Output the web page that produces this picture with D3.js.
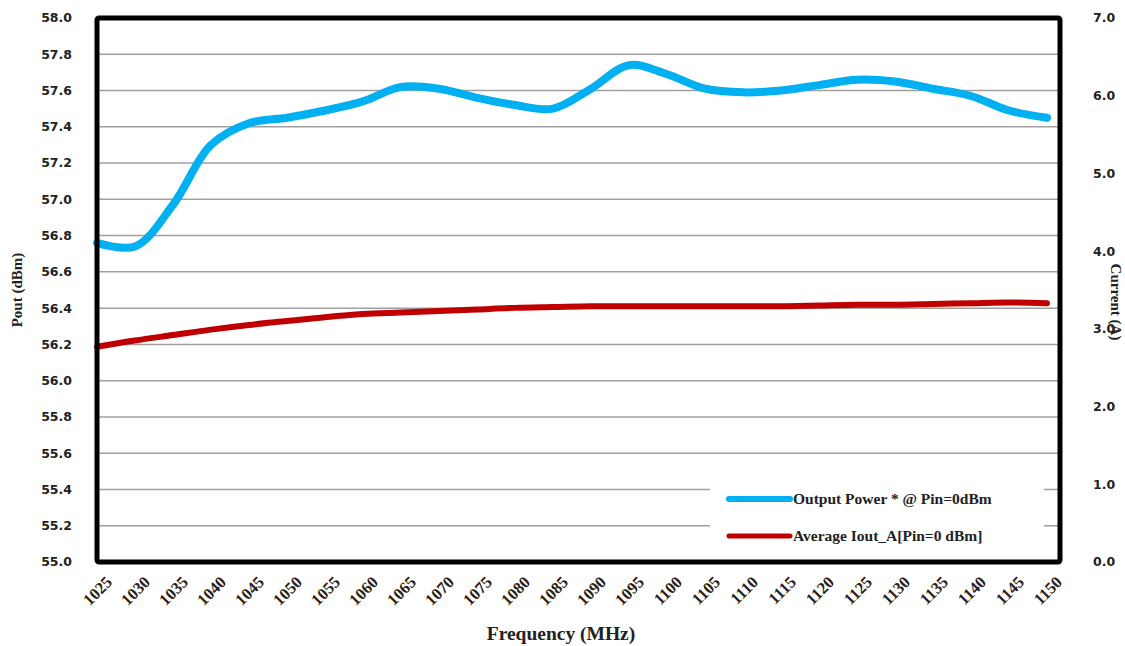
<!DOCTYPE html>
<html>
<head>
<meta charset="utf-8">
<script src="https://cdn.jsdelivr.net/npm/d3@7"></script>
<style>
  body { margin: 0; background: #fff; }
  svg { display: block; }
</style>
</head>
<body>
<div id="chart"></div>
<script>
const freqs = [1025, 1030, 1035, 1040, 1045, 1050, 1055, 1060, 1065, 1070, 1075, 1080, 1085,
               1090, 1095, 1100, 1105, 1110, 1115, 1120, 1125, 1130, 1135, 1140, 1145, 1150];
const pout = [56.76, 56.74, 56.97, 57.30, 57.42, 57.45, 57.49, 57.54, 57.62, 57.61, 57.56, 57.52, 57.50,
              57.61, 57.74, 57.69, 57.61, 57.59, 57.60, 57.63, 57.66, 57.65, 57.61, 57.57, 57.49, 57.45];
const current = [2.77, 2.85, 2.92, 2.99, 3.05, 3.10, 3.15, 3.19, 3.21, 3.23, 3.25, 3.27, 3.28,
                 3.29, 3.29, 3.29, 3.29, 3.29, 3.29, 3.30, 3.31, 3.31, 3.32, 3.33, 3.34, 3.33];
const leftTicks = d3.range(0, 16).map(i => +(55 + i * 0.2).toFixed(1));
const rightTicks = [0, 1, 2, 3, 4, 5, 6, 7];
const seriesNames = ["Output Power * @ Pin=0dBm", "Average Iout_A[Pin=0 dBm]"];

function renderChart() {
  const width = 1125, height = 646;
  const left = 97, right = 1060, top = 18, bottom = 562;

  const svg = d3.select("#chart").append("svg")
    .attr("width", width)
    .attr("height", height);

  const x = d3.scaleLinear().domain([1025, 1150]).range([left, 1047]);
  const yL = d3.scaleLinear().domain([55, 58]).range([bottom, top]);
  const yR = d3.scaleLinear().domain([0, 7]).range([bottom, top]);

  // grid
  svg.append("g")
    .selectAll("line")
    .data(leftTicks.slice(1, -1))
    .join("line")
    .attr("x1", left).attr("x2", right)
    .attr("y1", d => yL(d)).attr("y2", d => yL(d))
    .attr("stroke", "#a0a0a0")
    .attr("stroke-width", 1.5);

  // left tick labels
  svg.append("g")
    .selectAll("text")
    .data(leftTicks)
    .join("text")
    .attr("x", 72)
    .attr("y", d => yL(d))
    .attr("dy", "0.35em")
    .attr("text-anchor", "end")
    .attr("font-family", "DejaVu Sans")
    .attr("font-weight", "bold")
    .attr("font-size", 12.5)
    .attr("fill", "#222")
    .text(d => d.toFixed(1));

  // right tick labels
  svg.append("g")
    .selectAll("text")
    .data(rightTicks)
    .join("text")
    .attr("x", 1093)
    .attr("y", d => yR(d))
    .attr("dy", "0.35em")
    .attr("font-family", "DejaVu Sans")
    .attr("font-weight", "bold")
    .attr("font-size", 12.5)
    .attr("fill", "#222")
    .text(d => d.toFixed(1));

  // x tick labels
  svg.append("g")
    .selectAll("text")
    .data(freqs)
    .join("text")
    .attr("transform", d => `translate(${x(d) + 8},${575}) rotate(-45)`)
    .attr("text-anchor", "end")
    .attr("dy", "0.7em")
    .attr("font-family", "Liberation Serif")
    .attr("font-weight", "bold")
    .attr("font-size", 16.5)
    .attr("fill", "#222")
    .text(d => d);

  // axis titles
  svg.append("text")
    .attr("transform", "translate(22,290) rotate(-90)")
    .attr("text-anchor", "middle")
    .attr("font-family", "Liberation Serif")
    .attr("font-weight", "bold")
    .attr("font-size", 15)
    .attr("fill", "#222")
    .text("Pout (dBm)");

  svg.append("text")
    .attr("transform", "translate(1111,302) rotate(90)")
    .attr("text-anchor", "middle")
    .attr("font-family", "Liberation Serif")
    .attr("font-weight", "bold")
    .attr("font-size", 15)
    .attr("fill", "#222")
    .text("Current (A)");

  svg.append("text")
    .attr("x", 561)
    .attr("y", 640)
    .attr("text-anchor", "middle")
    .attr("font-family", "Liberation Serif")
    .attr("font-weight", "bold")
    .attr("font-size", 19.5)
    .attr("fill", "#222")
    .text("Frequency (MHz)");

  // series
  const lineL = d3.line()
    .x((d, i) => x(freqs[i]))
    .y(d => yL(d))
    .curve(d3.curveCatmullRom.alpha(0.5));
  const lineR = d3.line()
    .x((d, i) => x(freqs[i]))
    .y(d => yR(d))
    .curve(d3.curveCatmullRom.alpha(0.5));

  svg.append("path")
    .attr("d", lineL(pout))
    .attr("fill", "none")
    .attr("stroke", "#00b0f0")
    .attr("stroke-width", 8)
    .attr("stroke-linecap", "round");

  svg.append("path")
    .attr("d", lineR(current))
    .attr("fill", "none")
    .attr("stroke", "#c00000")
    .attr("stroke-width", 6)
    .attr("stroke-linecap", "round");

  // legend
  const lg = svg.append("g");
  lg.append("rect")
    .attr("x", 710).attr("y", 476)
    .attr("width", 334).attr("height", 80)
    .attr("fill", "#fff");
  const colors = ["#00b0f0", "#c00000"];
  seriesNames.forEach((name, i) => {
    const ly = 499 + i * 37;
    lg.append("line")
      .attr("x1", 729).attr("x2", 790)
      .attr("y1", ly).attr("y2", ly)
      .attr("stroke", colors[i])
      .attr("stroke-width", i === 0 ? 6 : 5)
      .attr("stroke-linecap", "round");
    lg.append("text")
      .attr("x", 793).attr("y", ly)
      .attr("dy", "0.35em")
      .attr("font-family", "Liberation Serif")
      .attr("font-weight", "bold")
      .attr("font-size", 15.5)
      .attr("fill", "#222")
      .text(name);
  });

  // frame
  svg.append("rect")
    .attr("x", left).attr("y", top)
    .attr("width", right - left).attr("height", bottom - top)
    .attr("fill", "none")
    .attr("stroke", "#000")
    .attr("stroke-width", 5)
    .attr("rx", 2);
}

renderChart();
</script>
</body>
</html>
